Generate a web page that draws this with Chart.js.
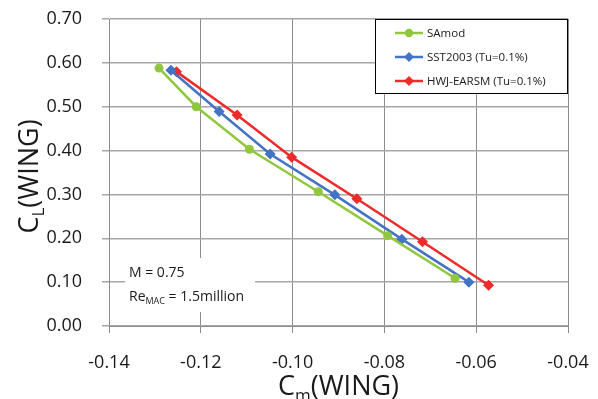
<!DOCTYPE html>
<html>
<head>
<meta charset="utf-8">
<script src="https://cdn.jsdelivr.net/npm/chart.js@4.4.1/dist/chart.umd.min.js"></script>
<style>
  html, body { margin: 0; padding: 0; background: #fff; }
  #wrap { width: 598px; height: 399px; position: relative; }
</style>
</head>
<body>
<div id="wrap"><canvas id="chart" width="598" height="399"></canvas></div>
<script>
// values: Cm (x) and CL (y)
const samodCm = [-0.1291, -0.1210, -0.1094, -0.0944, -0.0793, -0.0646];
const samodCl = [0.588, 0.500, 0.403, 0.306, 0.206, 0.109];
const sstCm   = [-0.1265, -0.1160, -0.1049, -0.0908, -0.0762, -0.0616];
const sstCl   = [0.583, 0.489, 0.392, 0.299, 0.198, 0.100];
const hwjCm   = [-0.1253, -0.1121, -0.1002, -0.0860, -0.0717, -0.0573];
const hwjCl   = [0.580, 0.481, 0.385, 0.290, 0.192, 0.093];

const seriesNames = ["SAmod", "SST2003 (Tu=0.1%)", "HWJ-EARSM (Tu=0.1%)"];
const xTicks = [-0.14, -0.12, -0.10, -0.08, -0.06, -0.04];
const yTicks = [0, 0.1, 0.2, 0.3, 0.4, 0.5, 0.6, 0.7];

const FONT = "'Open Sans', 'Liberation Sans', sans-serif";
const el = (id) => document.getElementById(id);

const pts = (xs, ys) => xs.map((x, i) => ({ x: x, y: ys[i] }));

// draws text with a subscript piece, parts = [{t, size, dy}]
function drawParts(ctx, parts, x, y){
  let cx = x;
  for(const p of parts){
    ctx.font = p.size + "px " + FONT;
    ctx.fillText(p.t, cx, y + (p.dy || 0));
    cx += ctx.measureText(p.t).width;
  }
}
function partsWidth(ctx, parts){
  let w = 0;
  for(const p of parts){
    ctx.font = p.size + "px " + FONT;
    w += ctx.measureText(p.t).width;
  }
  return w;
}

const extras = {
  id: "extras",
  afterDraw(chart){
    const ctx = chart.ctx;
    const a = chart.chartArea;
    ctx.save();
    ctx.fillStyle = "#1a1a1a";
    ctx.textBaseline = "alphabetic";
    ctx.textAlign = "left";

    // x axis title
    const xt = [{ t: "C", size: 27 }, { t: "m", size: 17, dy: 6 }, { t: "(WING)", size: 27 }];
    const xw = partsWidth(ctx, xt);
    drawParts(ctx, xt, (a.left + a.right) / 2 - xw / 2, 395);

    // y axis title (rotated)
    const yt = [{ t: "C", size: 27 }, { t: "L", size: 17, dy: 6 }, { t: "(WING)", size: 27 }];
    const yw = partsWidth(ctx, yt);
    ctx.save();
    ctx.translate(38, (a.top + a.bottom) / 2 + 4);
    ctx.rotate(-Math.PI / 2);
    drawParts(ctx, yt, -yw / 2, 0);
    ctx.restore();

    // text box with flow conditions
    ctx.fillStyle = "#fff";
    ctx.fillRect(125, 258, 130, 54);
    ctx.fillStyle = "#1a1a1a";
    ctx.textBaseline = "middle";
    drawParts(ctx, [{ t: "M = 0.75", size: 14 }], 129, 273);
    drawParts(ctx, [{ t: "Re", size: 14 }, { t: "MAC", size: 9, dy: 4 }, { t: " = 1.5million", size: 14 }], 129, 297);

    // legend box
    const lx = 375, ly = 19, lw = 192, lh = 74;
    ctx.fillStyle = "#fff";
    ctx.fillRect(lx, ly, lw, lh);
    ctx.strokeStyle = "#000";
    ctx.lineWidth = 1;
    ctx.strokeRect(lx + 0.5, ly + 0.5, lw, lh);
    const rows = [33, 57, 81];
    chart.data.datasets.forEach((ds, i) => {
      const y = rows[i];
      ctx.strokeStyle = ds.borderColor;
      ctx.lineWidth = 2.5;
      ctx.beginPath();
      ctx.moveTo(395, y);
      ctx.lineTo(423, y);
      ctx.stroke();
      ctx.fillStyle = ds.borderColor;
      ctx.beginPath();
      if(ds.pointStyle === "circle"){
        ctx.arc(409, y, 4.2, 0, Math.PI * 2);
      }else{
        const r = 5;
        ctx.moveTo(409, y - r); ctx.lineTo(409 + r, y);
        ctx.lineTo(409, y + r); ctx.lineTo(409 - r, y);
        ctx.closePath();
      }
      ctx.fill();
      ctx.fillStyle = "#1a1a1a";
      ctx.textBaseline = "middle";
      drawParts(ctx, [{ t: ds.label, size: 11.5 }], 427, y + 1);
    });
    ctx.restore();
  }
};

function loadChart(){
  const ctx = el("chart").getContext("2d");
  const mk = (label, xs, ys, color, style, r) => ({
    label: label,
    data: pts(xs, ys),
    showLine: true,
    borderColor: color,
    backgroundColor: color,
    borderWidth: 2.5,
    pointStyle: style,
    pointRadius: r,
    pointBorderWidth: 0,
    tension: 0
  });

  new Chart(ctx, {
    type: "scatter",
    data: {
      datasets: [
        mk(seriesNames[0], samodCm, samodCl, "#90c73e", "circle", 4.5),
        mk(seriesNames[1], sstCm, sstCl, "#4472c4", "rectRot", 5.5),
        mk(seriesNames[2], hwjCm, hwjCl, "#ee2a2a", "rectRot", 5.5)
      ]
    },
    options: {
      responsive: false,
      animation: false,
      layout: { padding: { left: 0, top: 19, right: 30, bottom: 0 } },
      plugins: { legend: { display: false }, tooltip: { enabled: false } },
      scales: {
        x: {
          type: "linear",
          min: -0.14, max: -0.04,
          afterBuildTicks: (s) => { s.ticks = xTicks.map(v => ({ value: v })); },
          afterFit: (s) => { s.height = 73; s.paddingLeft = 0; s.paddingRight = 0; },
          grid: { color: "#8c8c8c", lineWidth: 1, tickLength: 7 },
          border: { color: "#8c8c8c", width: 1 },
          ticks: {
            padding: 19,
            color: "#1a1a1a",
            font: { family: FONT, size: 18 },
            callback: (v) => Number(v).toFixed(2)
          }
        },
        y: {
          type: "linear",
          min: 0, max: 0.7,
          afterBuildTicks: (s) => { s.ticks = yTicks.map(v => ({ value: v })); },
          afterFit: (s) => { s.width = 109; s.paddingTop = 0; s.paddingBottom = 0; },
          grid: { color: "#a6a6a6", lineWidth: 1.5, tickLength: 7 },
          border: { color: "#8c8c8c", width: 1 },
          ticks: {
            padding: 20,
            color: "#1a1a1a",
            font: { family: FONT, size: 18 },
            callback: (v) => Number(v).toFixed(2)
          }
        }
      }
    },
    plugins: [extras]
  });
}

loadChart();
</script>
</body>
</html>
